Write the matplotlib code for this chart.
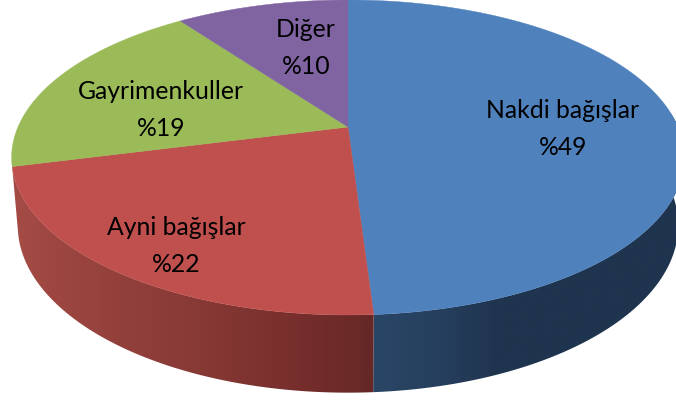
import numpy as np
import matplotlib
matplotlib.use("Agg")
import matplotlib.pyplot as plt
from matplotlib.patches import Polygon
from matplotlib.colors import to_rgb

categories = ["Nakdi bağışlar", "Ayni bağışlar", "Gayrimenkuller", "Diğer"]
values = [49, 22, 19, 10]
colors = ["#4F81BD", "#C0504D", "#9BBB59", "#8064A2"]
label_xy = [(563, 129), (176, 246), (161, 110), (306, 48)]

# Perspective projection of the pie disc onto pixel coordinates
CX, K = 348.0, 0.1936
TOP = dict(R=330.0, S=151.6, hub=127.0)
BOT = dict(R=324.0, S=161.0, hub=193.0)


def project(t, p):
    x, y = np.cos(t), np.sin(t)
    d = 1 + K * y
    return CX + p["R"] * x / d, p["hub"] - p["S"] * y / d


# Side shading, as a function of horizontal position
side_shades = {
    0: ([373, 440, 500, 676], ["#2A4666", "#263F5E", "#1F344E", "#1F344E"]),
    1: ([15, 100, 200, 300, 373], ["#A44B45", "#96423D", "#873935", "#762E2C", "#652826"]),
}

fig = plt.figure(figsize=(6.76, 4.0), dpi=100)
ax = fig.add_axes([0, 0, 1, 1])

fractions = np.array(values, dtype=float) / sum(values)
edges = np.pi / 2 - 2 * np.pi * np.concatenate([[0], np.cumsum(fractions)])

# Side wall (only the front of the pie is visible)
columns = np.arange(0, 677)
for i, (xs, cs) in side_shades.items():
    a0, a1 = (np.radians(5), edges[1]) if i == 0 else (edges[1], edges[2])
    ts = np.linspace(a0, a1, 200)
    xt, yt = project(ts, TOP)
    xb, yb = project(ts[::-1], BOT)
    outline = Polygon(list(zip(xt, yt)) + list(zip(xb, yb)), closed=True,
                      transform=ax.transData, facecolor="none", edgecolor="none")
    ax.add_patch(outline)
    rgb = np.array([to_rgb(c) for c in cs])
    row = np.stack([np.interp(columns, xs, rgb[:, k]) for k in range(3)], axis=-1)[None, :, :]
    im = ax.imshow(row, extent=(0, 676, 400, 0), aspect="auto", interpolation="bilinear", zorder=1)
    im.set_clip_path(outline)

# Top face
for i, c in enumerate(colors):
    ts = np.linspace(edges[i], edges[i + 1], 200)
    xt, yt = project(ts, TOP)
    pts = [(CX, TOP["hub"])] + list(zip(xt, yt))
    ax.add_patch(Polygon(pts, closed=True, facecolor=c, edgecolor=c, linewidth=0.3, zorder=2))

for name, v, (x, y) in zip(categories, values, label_xy):
    ax.text(x, y, f"{name}\n%{v}", ha="center", va="center", fontsize=17.8,
            family="Lato", color="black", linespacing=1.72, zorder=3)

ax.set_xlim(0, 676)
ax.set_ylim(400, 0)
ax.axis("off")

fig.savefig("out.png", dpi=100)
